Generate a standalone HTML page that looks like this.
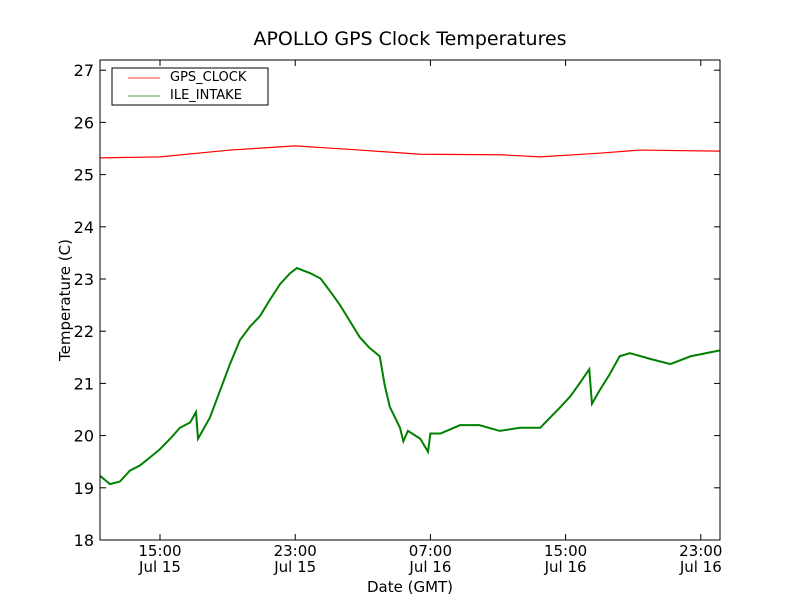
<!DOCTYPE html>
<html><head><meta charset="utf-8"><style>
body{margin:0;background:#fff;}
svg{display:block;font-family:"DejaVu Sans","Liberation Sans",sans-serif;}
</style></head><body>
<svg id="chart" width="800" height="600">
<rect width="800" height="600" fill="#fff"/>
<text x="410" y="45" font-size="19" text-anchor="middle">APOLLO GPS Clock Temperatures</text>
<g id="plot"></g>
<rect x="100" y="60" width="620" height="480" fill="none" stroke="#000"/>
<text x="410" y="592" font-size="15" text-anchor="middle">Date (GMT)</text>
<text transform="translate(70,300) rotate(-90)" font-size="15" text-anchor="middle">Temperature (C)</text>
<g>
<rect x="112" y="68" width="156" height="37" fill="#fff" stroke="#000"/>
<line x1="128" y1="78" x2="160" y2="78" stroke="red" stroke-width="0.8"/>
<text x="170" y="81" font-size="13">GPS_CLOCK</text>
<line x1="128" y1="96" x2="160" y2="96" stroke="green" stroke-width="0.8"/>
<text x="170" y="99" font-size="13">ILE_INTAKE</text>
</g>
</svg>
<script>
// hours relative to 15:00 Jul 15
const greenHours=[-3.55,-2.96,-2.37,-1.78,-1.18,-0.6,0,0.6,1.18,1.78,2.13,2.25,2.96,3.55,4.14,4.73,5.33,5.92,6.5,7.1,7.7,8.1,8.9,9.5,10.1,10.65,11.24,11.83,12.4,13.0,13.3,13.6,14.2,14.4,14.67,15.4,15.86,16.0,16.6,17.75,18.9,20.1,21.3,22.5,23.1,23.7,24.3,24.85,25.4,25.56,26.0,26.6,27.2,27.8,29.0,30.2,31.4,33.1];
const greenValues=[19.23,19.07,19.12,19.33,19.43,19.58,19.74,19.94,20.15,20.25,20.45,19.94,20.35,20.86,21.37,21.83,22.09,22.29,22.6,22.9,23.11,23.21,23.11,23.01,22.75,22.5,22.19,21.88,21.68,21.52,20.96,20.55,20.15,19.89,20.09,19.94,19.69,20.04,20.04,20.2,20.2,20.09,20.15,20.15,20.35,20.55,20.76,21.01,21.27,20.61,20.86,21.17,21.52,21.58,21.47,21.37,21.52,21.63];
const redHours=[-3.55,0,4.14,8.0,11.83,15.4,20.1,22.5,26.0,28.4,33.1];
const redValues=[25.32,25.34,25.47,25.55,25.47,25.39,25.38,25.34,25.41,25.47,25.45];
const yTicks=[18,19,20,21,22,23,24,25,26,27];
const xTickHours=[0,8,16,24,32];
const xTickTimes=["15:00","23:00","07:00","15:00","23:00"];
const xTickDates=["Jul 15","Jul 15","Jul 16","Jul 16","Jul 16"];

const NS="http://www.w3.org/2000/svg";
const xs=h=>160+h*16.9;
const ys=v=>540-(v-18)*52.2;
const g=document.getElementById('plot');
function mk(t,a){const e=document.createElementNS(NS,t);for(const k in a)e.setAttribute(k,a[k]);return e;}
yTicks.forEach(v=>{
  const y=ys(v);
  const l1=mk('line',{x1:100,x2:106,y1:y,y2:y,stroke:'#000'});
  
  
  g.appendChild(l1);
  const l2=mk('line',{x1:714,x2:720,y1:y,y2:y,stroke:'#000'});
  
  
  g.appendChild(l2);
  const t=mk('text',{x:94,y:y+6,'font-size':16,'text-anchor':'end'});
  t.textContent=v;
  
  
  g.appendChild(t);
});
xTickHours.forEach((h,i)=>{
  const x=xs(h);
  const l1=mk('line',{x1:x,x2:x,y1:534,y2:540,stroke:'#000'});
  
  
  g.appendChild(l1);
  const l2=mk('line',{x1:x,x2:x,y1:60,y2:66,stroke:'#000'});
  
  
  g.appendChild(l2);
  const t=mk('text',{x:x,y:556,'font-size':15,'text-anchor':'middle'});
  t.textContent=xTickTimes[i];
  
  
  g.appendChild(t);
  const d=mk('text',{x:x,y:572,'font-size':15,'text-anchor':'middle'});
  d.textContent=xTickDates[i];
  
  
  g.appendChild(d);
});
function line(hs,vs,color,w){
  return mk('polyline',{points:hs.map((h,i)=>xs(h)+','+ys(vs[i])).join(' '),fill:'none',stroke:color,'stroke-width':w});
}
const red=line(redHours,redValues,'red',1.2);


g.appendChild(red);
const green=line(greenHours,greenValues,'green',2);


g.appendChild(green);
</script>
</body></html>
